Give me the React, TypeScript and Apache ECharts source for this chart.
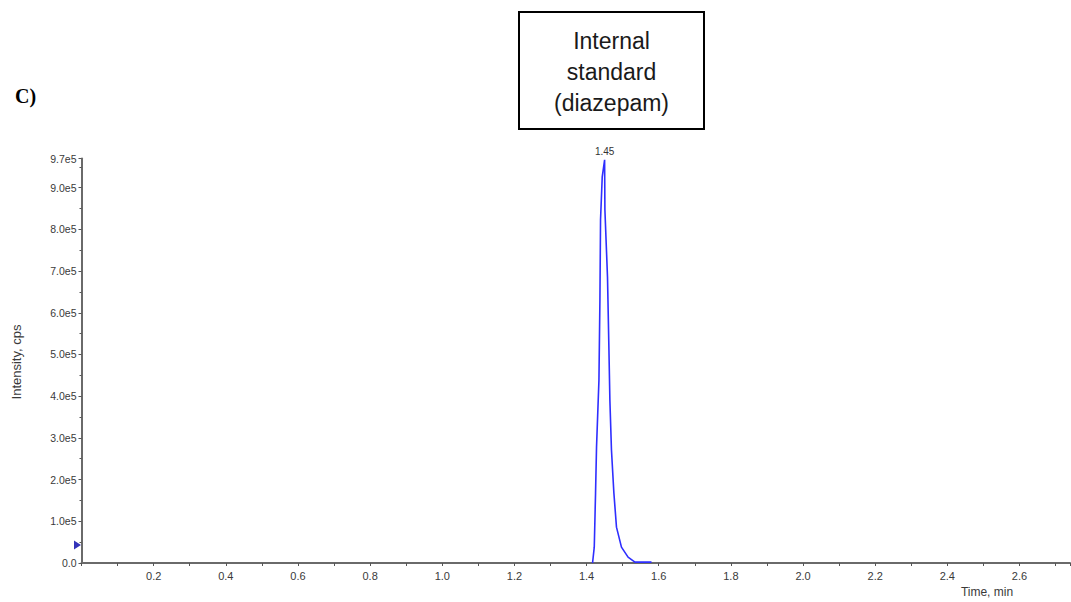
import React, { useEffect, useRef } from "react";
import * as echarts from "echarts";

// Chromatogram trace of the internal standard (time in min, intensity in cps)
const peakTimes = [
  1.4166, 1.4213, 1.4249, 1.4276, 1.4343, 1.437, 1.4387, 1.4434, 1.45,
  1.4508, 1.458, 1.462, 1.4646, 1.469, 1.4757, 1.4829, 1.4967, 1.515, 1.534, 1.58,
];
const peakIntensity = [
  0, 38000, 168000, 278000, 439000, 631000, 823000, 926000, 967000,
  847000, 686000, 511000, 391000, 271000, 168000, 86000, 38000, 14000, 2000, 2000,
];
const apexTime = 1.45;
const apexIntensity = 967000;

// Axis ranges
const timeMax = 2.74;
const intensityMax = 970000;

// Baseline marker on the intensity axis
const baselineMarker = [0, 43000];

const FONT = 'Arial, "Liberation Sans", sans-serif';

export default function App() {
  const ref = useRef<HTMLDivElement>(null);

  useEffect(() => {
    if (!ref.current) return;
    const chart = echarts.init(ref.current, null, { renderer: "svg" });

    const trace = peakTimes.map((t, i) => [t, peakIntensity[i]]);

    chart.setOption({
      animation: false,
      backgroundColor: "#fff",
      grid: { left: 81.5, right: 1, top: 158.5, bottom: 39, containLabel: false },
      xAxis: {
        type: "value",
        min: 0,
        max: timeMax,
        interval: 0.2,
        axisLine: { show: true, lineStyle: { color: "#6a6a6a", width: 2 } },
        axisTick: { show: true, length: 3, lineStyle: { color: "#555", width: 1 } },
        minorTick: { show: true, splitNumber: 2, length: 3, lineStyle: { color: "#555" } },
        splitLine: { show: false },
        axisLabel: {
          showMinLabel: false,
          showMaxLabel: false,
          fontSize: 11,
          color: "#3a3a3a",
          fontFamily: FONT,
          margin: 7,
          formatter: (v: number) => v.toFixed(1),
        },
      },
      yAxis: {
        type: "value",
        min: 0,
        max: intensityMax,
        interval: 100000,
        axisLine: { show: true, lineStyle: { color: "#6a6a6a", width: 2 } },
        axisTick: { show: true, length: 3, lineStyle: { color: "#555", width: 1 } },
        minorTick: { show: true, splitNumber: 2, length: 2, lineStyle: { color: "#555" } },
        splitLine: { show: false },
        axisLabel: {
          fontSize: 10.5,
          color: "#3a3a3a",
          fontFamily: FONT,
          margin: 5,
          showMaxLabel: true,
          formatter: (v: number) => (v === 0 ? "0.0" : (v / 100000).toFixed(1) + "e5"),
        },
      },
      series: [
        {
          type: "line",
          data: trace,
          symbol: "none",
          showSymbol: false,
          lineStyle: { color: "#2e2eff", width: 1.6 },
          z: 3,
          markPoint: {
            symbol: "circle",
            symbolSize: 1,
            itemStyle: { color: "rgba(0,0,0,0)" },
            label: {
              show: true,
              position: "top",
              distance: 3,
              fontSize: 10,
              color: "#333",
              fontFamily: FONT,
              formatter: () => apexTime.toFixed(2),
            },
            data: [{ coord: [apexTime, apexIntensity] }],
          },
        },
        {
          type: "scatter",
          data: [baselineMarker],
          symbol: "triangle",
          symbolSize: [9, 7],
          symbolRotate: -90,
          symbolOffset: [-4, 0],
          itemStyle: { color: "#0000a8" },
          clip: false,
          silent: true,
          z: 4,
        },
      ],
      graphic: [
        {
          type: "text",
          left: 15,
          top: 86,
          style: {
            text: "C)",
            font: 'bold 20px "Liberation Serif", "Times New Roman", serif',
            fill: "#000",
          },
        },
        {
          type: "rect",
          shape: { x: 519, y: 12, width: 185, height: 117 },
          style: { fill: "#fff", stroke: "#000", lineWidth: 2 },
        },
        {
          type: "text",
          x: 611.5,
          y: 71.5,
          style: {
            text: "Internal\nstandard\n(diazepam)",
            font: '23px ' + FONT,
            lineHeight: 31,
            fill: "#1a1a1a",
            align: "center",
            verticalAlign: "middle",
          },
        },
        {
          type: "text",
          x: 16,
          y: 362,
          rotation: Math.PI / 2,
          style: {
            text: "Intensity, cps",
            font: '13px ' + FONT,
            fill: "#3a3a3a",
            align: "center",
            verticalAlign: "middle",
          },
        },
        {
          type: "text",
          x: 987,
          y: 592,
          style: {
            text: "Time, min",
            font: '12px ' + FONT,
            fill: "#3a3a3a",
            align: "center",
            verticalAlign: "middle",
          },
        },
      ],
    });

    return () => chart.dispose();
  }, []);

  return (
    <div
      ref={ref}
      style={{ position: "fixed", left: 0, top: 0, width: 1071, height: 602 }}
    />
  );
}
